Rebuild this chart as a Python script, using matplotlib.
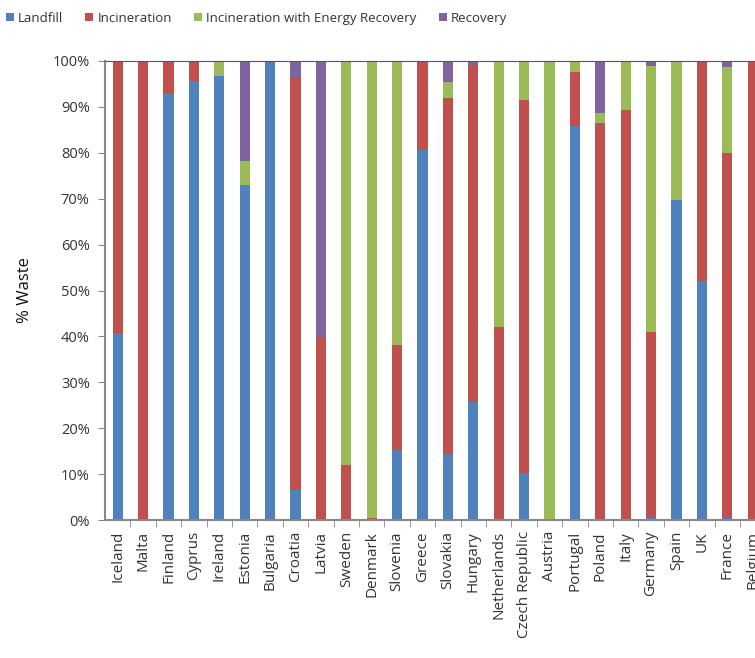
import numpy as np
import matplotlib.pyplot as plt
from matplotlib.patches import Patch

# --- Data (% of waste by treatment) ---
countries = ['Iceland', 'Malta', 'Finland', 'Cyprus', 'Ireland', 'Estonia', 'Bulgaria',
             'Croatia', 'Latvia', 'Sweden', 'Denmark', 'Slovenia', 'Greece', 'Slovakia',
             'Hungary', 'Netherlands', 'Czech Republic', 'Austria', 'Portugal', 'Poland',
             'Italy', 'Germany', 'Spain', 'UK', 'France', 'Belgium']
landfill = [40.7, 0, 93.1, 95.6, 96.7, 73.0, 100, 6.5, 0, 0, 0, 15.3, 80.6, 14.3,
            25.6, 0, 10.2, 0, 85.8, 0, 0, 0.4, 69.7, 52.1, 0.5, 0]
incineration = [59.3, 100, 6.9, 4.4, 0, 0, 0, 89.7, 39.9, 12.0, 0.4, 22.8, 19.4, 77.6,
                73.5, 42.1, 81.2, 0, 11.7, 86.6, 89.3, 40.6, 0, 47.9, 79.4, 100]
energy_recovery = [0, 0, 0, 0, 3.3, 5.3, 0, 0, 0, 88.0, 99.6, 61.9, 0, 3.5,
                   0, 57.9, 8.6, 100, 2.5, 2.0, 10.7, 57.9, 30.3, 0, 18.9, 0]
recovery = [0, 0, 0, 0, 0, 21.7, 0, 3.8, 60.1, 0, 0, 0, 0, 4.6,
            0.9, 0, 0, 0, 0, 11.4, 0, 1.1, 0, 0, 1.2, 0]

series = [('Landfill', landfill, '#4F81BD'),
          ('Incineration', incineration, '#C0504D'),
          ('Incineration with Energy Recovery', energy_recovery, '#9BBB59'),
          ('Recovery', recovery, '#8064A2')]

plt.rcParams['font.family'] = ['Open Sans', 'DejaVu Sans']

fig = plt.figure(figsize=(7.55, 6.58), dpi=100)
# axes run past the right edge, like the cropped original
ax = fig.add_axes([105 / 755, 138 / 658, 650 / 755, 459 / 658])

x = np.arange(len(countries))
bottom = np.zeros(len(countries))
for name, vals, color in series:
    vals = np.array(vals)
    ax.bar(x, vals, width=0.4, bottom=bottom, color=color, label=name)
    bottom += vals

ax.set_yticks(np.arange(0, 101, 10))
ax.set_yticklabels([f'{v}%' for v in range(0, 101, 10)], fontsize=10.5, color='#333333')
ax.set_ylabel('% Waste', fontsize=12, color='#111111', labelpad=14)

ax.set_xticks(x)
ax.set_xticklabels(countries, rotation=90, fontsize=11, color='#333333')
ax.tick_params(axis='x', length=0, pad=8)
ax.set_xticks(np.arange(len(countries)) + 0.5, minor=True)
ax.tick_params(axis='x', which='minor', length=5, color='#888888', direction='out')
ax.tick_params(axis='y', length=5, color='#888888', direction='out', pad=6)

# limits last, so the tick calls don't widen them
ax.set_ylim(0, 100)
ax.set_xlim(-0.5, -0.5 + 650 / 25.4)

for side in ['left', 'bottom']:
    ax.spines[side].set_color('#888888')
    ax.spines[side].set_linewidth(1.5)
ax.spines['top'].set_color('#555555')
ax.spines['right'].set_visible(False)

handles = [Patch(facecolor=c, label=n) for n, _, c in series]
fig.legend(handles=handles, loc='upper left', bbox_to_anchor=(-0.008, 1.0), ncol=4,
           frameon=False, fontsize=9.5, handlelength=0.6, handleheight=0.6,
           handletextpad=0.3, columnspacing=1.7, labelcolor='#333333')

fig.savefig('out.png', dpi=100)
